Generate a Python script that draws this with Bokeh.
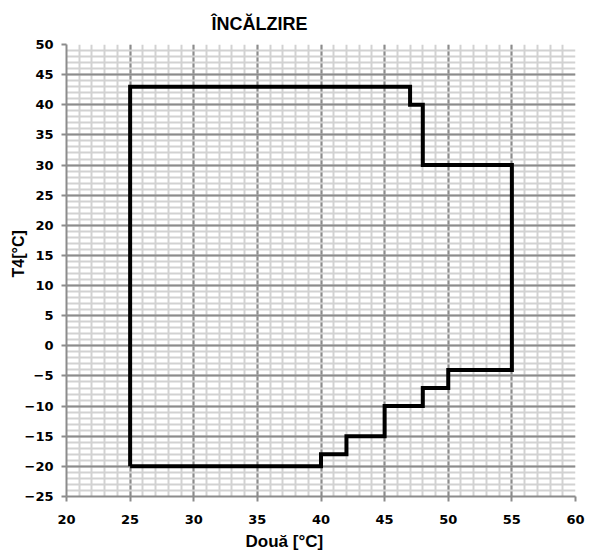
from bokeh.plotting import figure
from bokeh.models import Range1d, SingleIntervalTicker, Title
from bokeh.embed import file_html
from bokeh.resources import INLINE

# Operating envelope (heating) outline: water temperature vs T4
doua_x = [25, 25, 47, 47, 48, 48, 55, 55, 50, 50, 48, 48, 45, 45, 42, 42, 40, 40, 25]
t4_y = [-20, 43, 43, 40, 40, 30, 30, -4, -4, -7, -7, -10, -10, -15, -15, -18, -18, -20, -20]

x_ticks = [20, 25, 30, 35, 40, 45, 50, 55, 60]
y_ticks = [-25, -20, -15, -10, -5, 0, 5, 10, 15, 20, 25, 30, 35, 40, 45, 50]

title_text = "ÎNCĂLZIRE"
xlabel_text = "Două [°C]"
ylabel_text = "T4[°C]"

FONT = "Liberation Sans"
TICK_FONT = "DejaVu Sans"

p = figure(width=585, height=557, output_backend="svg", toolbar_location=None,
           x_range=Range1d(x_ticks[0], x_ticks[-1]), y_range=Range1d(y_ticks[0], y_ticks[-1]),
           min_border_left=66, min_border_right=10, min_border_top=44, min_border_bottom=61,
           title=title_text)
p.outline_line_color = None
p.background_fill_color = "white"

p.title.text_font = FONT
p.title.text_font_size = "18px"
p.title.text_font_style = "bold"
p.title.text_color = "black"
p.title.align = "left"
p.title.offset = 145
p.title.standoff = 21

xt = SingleIntervalTicker(interval=5, num_minor_ticks=5)
yt = SingleIntervalTicker(interval=5, num_minor_ticks=5)
p.xaxis.ticker = xt
p.yaxis.ticker = yt
p.xgrid.ticker = xt
p.ygrid.ticker = yt

for g in (p.xgrid, p.ygrid):
    g.grid_line_color = "#8c8c8c"
    g.grid_line_width = 2
    g.minor_grid_line_color = "#d2d2d2"
    g.minor_grid_line_width = 2

for ax in (p.xaxis[0], p.yaxis[0]):
    ax.axis_line_color = "#8c8c8c"
    ax.axis_line_width = 2
    ax.major_tick_line_color = "#8c8c8c"
    ax.major_tick_line_width = 2
    ax.major_tick_in = 0
    ax.major_tick_out = 5
    ax.minor_tick_line_color = None
    ax.major_label_text_font = TICK_FONT
    ax.major_label_text_font_size = "13px"
    ax.major_label_text_font_style = "bold"
    ax.major_label_text_color = "black"

p.xaxis[0].major_label_standoff = 13
p.yaxis[0].major_label_standoff = 8

xlabel = Title(text=xlabel_text, align="left", offset=179, standoff=6,
               text_font=FONT, text_font_size="17px", text_font_style="bold",
               text_color="black")
p.add_layout(xlabel, "below")

ylabel = Title(text=ylabel_text, align="left", offset=219, standoff=-11,
               text_font=FONT, text_font_size="16px", text_font_style="bold",
               text_color="black")
p.add_layout(ylabel, "left")

p.line(doua_x, t4_y, line_color="black", line_width=4, line_join="miter")

open("out.html", "w").write(file_html(p, INLINE))
